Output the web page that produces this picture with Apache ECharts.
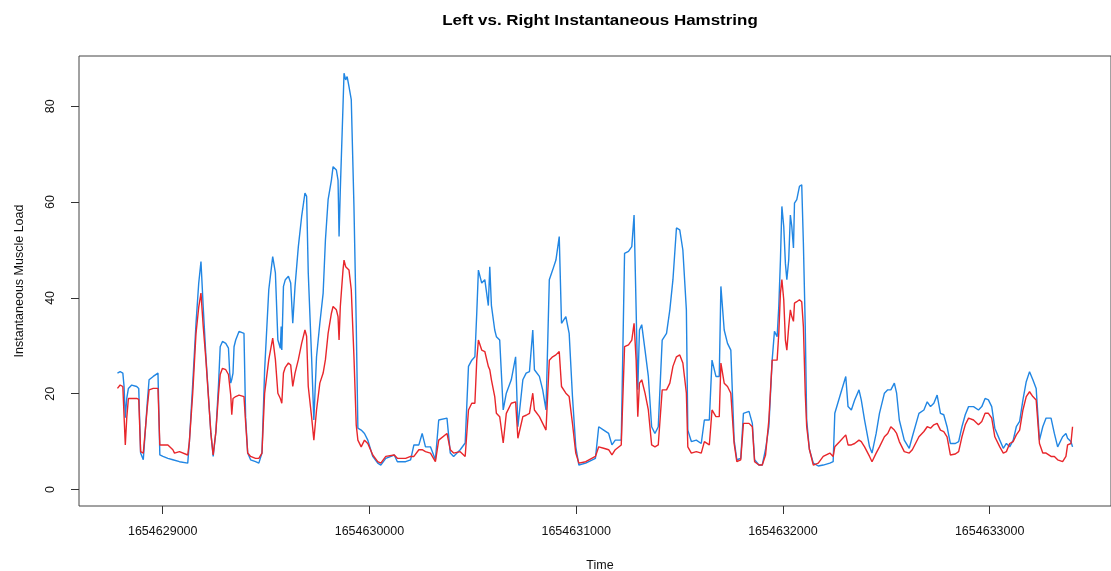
<!DOCTYPE html>
<html>
<head>
<meta charset="utf-8">
<script src="https://cdn.jsdelivr.net/npm/echarts@6/dist/echarts.min.js"></script>
<style>
html,body{margin:0;padding:0;background:#fff;}
#chart{width:1111px;height:571px;}
</style>
</head>
<body>
<div id="chart"></div>
<script>
const titleText = "Left vs. Right Instantaneous Hamstring";
const xAxisTitle = "Time";
const yAxisTitle = "Instantaneous Muscle Load";
const xTicks = [1654629000, 1654630000, 1654631000, 1654632000, 1654633000];
const yTicks = [0, 20, 40, 60, 80];

const times = [
1654628781,1654628794,1654628807,1654628813,1654628819,1654628826,1654628834,1654628850,1654628874,1654628884,
1654628893,1654628906,1654628915,1654628925,1654628934,1654628954,1654628977,1654628986,1654629001,1654629025,
1654629049,1654629057,1654629081,1654629121,1654629129,1654629145,1654629161,1654629174,1654629185,1654629196,
1654629209,1654629233,1654629244,1654629257,1654629270,1654629278,1654629289,1654629305,1654629318,1654629324,
1654629329,1654629334,1654629340,1654629345,1654629353,1654629369,1654629393,1654629401,1654629411,1654629425,
1654629449,1654629465,1654629480,1654629493,1654629513,1654629532,1654629545,1654629557,1654629569,1654629573,
1654629576,1654629584,1654629593,1654629608,1654629619,1654629629,1654629640,1654629656,1654629672,1654629688,
1654629696,1654629704,1654629720,1654629731,1654629744,1654629760,1654629776,1654629787,1654629800,1654629816,
1654629824,1654629840,1654629848,1654629853,1654629859,1654629872,1654629877,1654629885,1654629892,1654629901,
1654629912,1654629925,1654629936,1654629944,1654629960,1654629976,1654629992,1654630016,1654630040,1654630055,
1654630079,1654630120,1654630135,1654630175,1654630199,1654630215,1654630239,1654630255,1654630271,1654630295,
1654630319,1654630335,1654630375,1654630391,1654630407,1654630439,1654630463,1654630479,1654630495,1654630510,
1654630519,1654630527,1654630543,1654630558,1654630575,1654630582,1654630590,1654630606,1654630614,1654630630,
1654630647,1654630662,1654630686,1654630707,1654630718,1654630742,1654630758,1654630774,1654630790,1654630798,
1654630822,1654630838,1654630854,1654630870,1654630886,1654630902,1654630918,1654630929,1654630950,1654630966,
1654630982,1654630998,1654631013,1654631046,1654631093,1654631109,1654631133,1654631157,1654631173,1654631189,
1654631218,1654631234,1654631253,1654631269,1654631280,1654631290,1654631298,1654631306,1654631317,1654631333,
1654631349,1654631365,1654631381,1654631397,1654631416,1654631437,1654631453,1654631468,1654631485,1654631501,
1654631516,1654631533,1654631540,1654631557,1654631581,1654631605,1654631620,1654631644,1654631657,1654631676,
1654631692,1654631700,1654631716,1654631732,1654631748,1654631764,1654631777,1654631796,1654631809,1654631836,
1654631852,1654631863,1654631884,1654631900,1654631916,1654631932,1654631948,1654631959,1654631972,1654631980,
1654631988,1654631995,1654632004,1654632012,1654632019,1654632028,1654632036,1654632043,1654632051,1654632056,
1654632067,1654632080,1654632091,1654632099,1654632108,1654632115,1654632128,1654632147,1654632171,1654632195,
1654632227,1654632243,1654632251,1654632275,1654632304,1654632315,1654632331,1654632347,1654632368,1654632379,
1654632395,1654632419,1654632431,1654632451,1654632467,1654632491,1654632507,1654632522,1654632539,1654632550,
1654632563,1654632587,1654632611,1654632626,1654632658,1654632682,1654632698,1654632714,1654632730,1654632746,
1654632762,1654632778,1654632794,1654632810,1654632834,1654632850,1654632866,1654632882,1654632898,1654632922,
1654632946,1654632962,1654632978,1654632994,1654633010,1654633025,1654633049,1654633066,1654633081,1654633097,
1654633114,1654633129,1654633145,1654633161,1654633177,1654633193,1654633209,1654633225,1654633241,1654633257,
1654633273,1654633297,1654633313,1654633329,1654633353,1654633369,1654633377,1654633393,1654633401
];

const leftLoad = [
24.3,24.6,24.3,21.5,15,19,21.1,21.8,21.5,21.1,
7.6,6.2,5.8,18,22.9,23.6,24.3,7.2,6.9,6.5,
6.2,6.2,5.8,5.5,10,22,34.7,43,47.6,38,
27.7,11.7,6.9,12,22,29.8,30.9,30.5,29.5,24.3,
22.2,23,24.3,29.8,31.2,33.0,32.6,15,7.6,6.2,
5.8,5.5,7.6,25.0,41.7,48.6,45.2,31.2,29.5,34.0,
29.1,42.4,43.8,44.5,43.1,34.7,42.4,50.7,57.0,61.9,
61.2,45.2,27.7,14.5,27.7,34.7,41.0,52.1,60.5,64.6,
67.4,66.7,64.6,52.8,62.6,80.0,86.9,85.5,86.2,84.1,
81.4,59.1,34.7,12.8,12.4,11.7,10.3,6.9,5.5,5.1,
6.5,7.2,5.8,5.8,6.2,9.3,9.3,11.7,8.9,8.9,
6.2,14.5,14.9,7.6,6.9,8.3,9.7,25.7,27.0,27.7,
36.8,45.8,43.1,43.8,38.4,46.5,38.4,33.3,31.9,31.2,
16.6,20.1,22.9,27.7,13.1,22.9,24.3,24.6,33.3,25.0,
23.6,20.8,16.6,43.8,45.8,47.9,52.8,34.7,36.1,32.6,
19.4,8.9,5.1,5.5,6.5,13.1,12.4,11.7,9.3,10.3,
10.3,49.3,49.7,50.7,57.3,37.5,20.8,33.3,34.4,29.1,
23.6,13.1,11.7,13.1,31.2,32.6,37.5,43.8,54.6,54.2,
50.0,37.5,12.4,10.0,10.3,9.6,14.5,14.5,27.0,23.6,
23.6,42.4,33.3,30.5,29.1,10.3,6.2,6.5,15.9,16.3,
13.8,6.2,5.1,5.1,8.4,13.1,27.0,33.0,31.9,38.2,
47.9,59.1,54.9,47.2,43.8,47.9,57.3,54.9,50.4,59.8,
60.5,63.3,63.6,51.4,34.0,14.5,8.4,5.5,4.9,5.1,
5.5,5.8,15.9,19.4,23.6,17.3,16.6,18.7,20.8,18.7,
14.5,8.9,7.6,11.7,15.9,20.1,20.8,20.8,22.2,20.1,
14.5,10.3,8.6,11.0,15.9,16.6,18.3,17.3,18.0,19.7,
15.9,15.6,13.1,9.6,9.6,10.0,13.1,15.6,17.3,17.3,
16.6,17.3,19.0,18.7,17.3,12.8,10.3,8.6,9.6,8.9,
10.3,13.1,14.2,18.7,22.5,24.6,22.9,21.1,10.3,13.1,
14.9,14.9,11.7,8.9,11.0,11.7,10.7,10.0,8.9
];

const rightLoad = [
21.1,21.8,21.5,21.1,9.3,15,19.0,19.0,19.0,18.8,
7.9,7.6,7.6,17,20.8,21.1,21.1,9.3,9.3,9.3,
8.3,7.6,7.9,7.2,10,20,32.6,38,41.0,34,
27,11.7,7.2,12,20,24,25.3,25.0,24,23.6,
19.7,15.6,19.0,19.0,19.4,19.7,19.4,14,7.6,6.9,
6.5,6.5,7.6,20.1,27.1,31.6,27.1,20.1,19.0,19.0,
18.0,24.3,25.5,26.4,26,21.5,24.3,27.1,30.5,33.3,
32,21.5,15.2,10.3,16.6,22.2,24.3,27.1,32.6,36.8,
38.2,37.5,36.1,31.2,38.2,45.8,47.9,46.5,46.5,45.8,
41.7,27.7,13.5,10.3,8.9,10.3,9.6,7.2,5.8,5.5,
6.9,7.2,6.5,6.5,6.9,6.9,8.3,8.3,7.9,7.6,
5.8,10.3,11.7,8.3,7.6,7.9,6.9,16.6,18.0,18.0,
27.0,31.2,29.1,28.8,25.7,25.0,22.9,19.4,15.9,15.2,
9.7,15.9,18.0,18.3,10.7,15.2,15.5,15.9,20.1,16.6,
15.2,13.8,12.4,27.0,27.7,28.1,28.8,21.5,20.1,19.4,
13.8,7.6,5.5,5.8,6.9,8.9,8.6,8.3,7.2,8.3,
9.3,29.8,30.2,31.2,34.7,27.0,15.2,22.2,22.9,20.1,
16.6,9.3,8.9,9.3,20.8,20.8,22.2,25.7,27.7,28.1,
26.4,20.1,8.9,7.6,7.9,7.6,10.0,9.3,16.6,15.2,
15.2,26.4,22.2,21.5,20.1,9.6,5.8,6.2,13.8,13.8,
13.1,5.8,5.1,5.1,7.2,14.5,27.0,27.0,27.0,32.6,
41.0,43.8,39.6,31.2,29.1,34.0,37.5,36.1,35.1,38.9,
39.2,39.6,39.2,34.0,20.1,13.1,8.4,5.1,5.5,6.9,
7.6,6.9,8.9,10.0,11.4,9.3,9.3,9.6,10.3,10.0,
8.9,6.9,5.8,7.6,8.9,11.0,11.7,13.1,12.4,11.7,
10.0,7.9,7.6,8.3,11.0,12.1,13.1,12.8,13.5,13.8,
12.4,12.1,11.0,7.2,7.4,7.9,11.0,13.5,14.9,14.5,
13.5,14.2,15.9,15.9,14.9,11.0,8.9,7.6,7.9,9.6,
10.0,11.4,12.4,16.6,19.4,20.4,19.4,18.7,9.6,7.6,
7.6,6.9,6.9,6.2,5.8,6.9,9.3,9.6,13.1
];

const leftSeries = times.map((t, i) => [t, leftLoad[i]]);
const rightSeries = times.map((t, i) => [t, rightLoad[i]]);

const chart = echarts.init(document.getElementById('chart'), null, {renderer: 'canvas'});
const font = '"Liberation Sans", Arial, Helvetica, sans-serif';
chart.setOption({
  animation: false,
  backgroundColor: '#ffffff',
  grid: {
    left: 79, top: 56, width: 1042, height: 450,
    show: true, borderColor: '#444', borderWidth: 1, backgroundColor: 'transparent'
  },
  xAxis: {
    type: 'value',
    min: 1654628595, max: 1654633587,
    axisLine: {show: false, onZero: false},
    splitLine: {show: false},
    axisTick: {show: true, length: 8, inside: false, customValues: xTicks, lineStyle: {color: '#333', width: 1}},
    axisLabel: {
      customValues: xTicks, margin: 19, color: '#111',
      fontFamily: font, fontSize: 12.5,
      formatter: v => String(v)
    }
  },
  yAxis: {
    type: 'value',
    min: -3.45, max: 90.5,
    axisLine: {show: false, onZero: false},
    splitLine: {show: false},
    axisTick: {show: true, length: 8, inside: false, customValues: yTicks, lineStyle: {color: '#333', width: 1}},
    axisLabel: {
      customValues: yTicks, margin: 22, rotate: 90, color: '#111',
      fontFamily: font, fontSize: 12.5,
      formatter: v => String(v)
    }
  },
  graphic: [
    {type: 'text', x: 600, y: 21, scaleX: 1.13, style: {text: titleText, fill: '#000', font: 'bold 15px ' + font, textAlign: 'center', textVerticalAlign: 'middle'}},
    {type: 'text', x: 600, y: 566, style: {text: xAxisTitle, fill: '#111', font: '12.5px ' + font, textAlign: 'center', textVerticalAlign: 'middle'}},
    {type: 'text', x: 20, y: 281, rotation: Math.PI / 2, style: {text: yAxisTitle, fill: '#111', font: '12.5px ' + font, textAlign: 'center', textVerticalAlign: 'middle'}}
  ],
  series: [
    {type: 'line', data: leftSeries, showSymbol: false, symbol: 'none', lineStyle: {color: '#2186e3', width: 1.4}, z: 2},
    {type: 'line', data: rightSeries, showSymbol: false, symbol: 'none', lineStyle: {color: '#e8262b', width: 1.4}, z: 3}
  ]
});
</script>
</body>
</html>
